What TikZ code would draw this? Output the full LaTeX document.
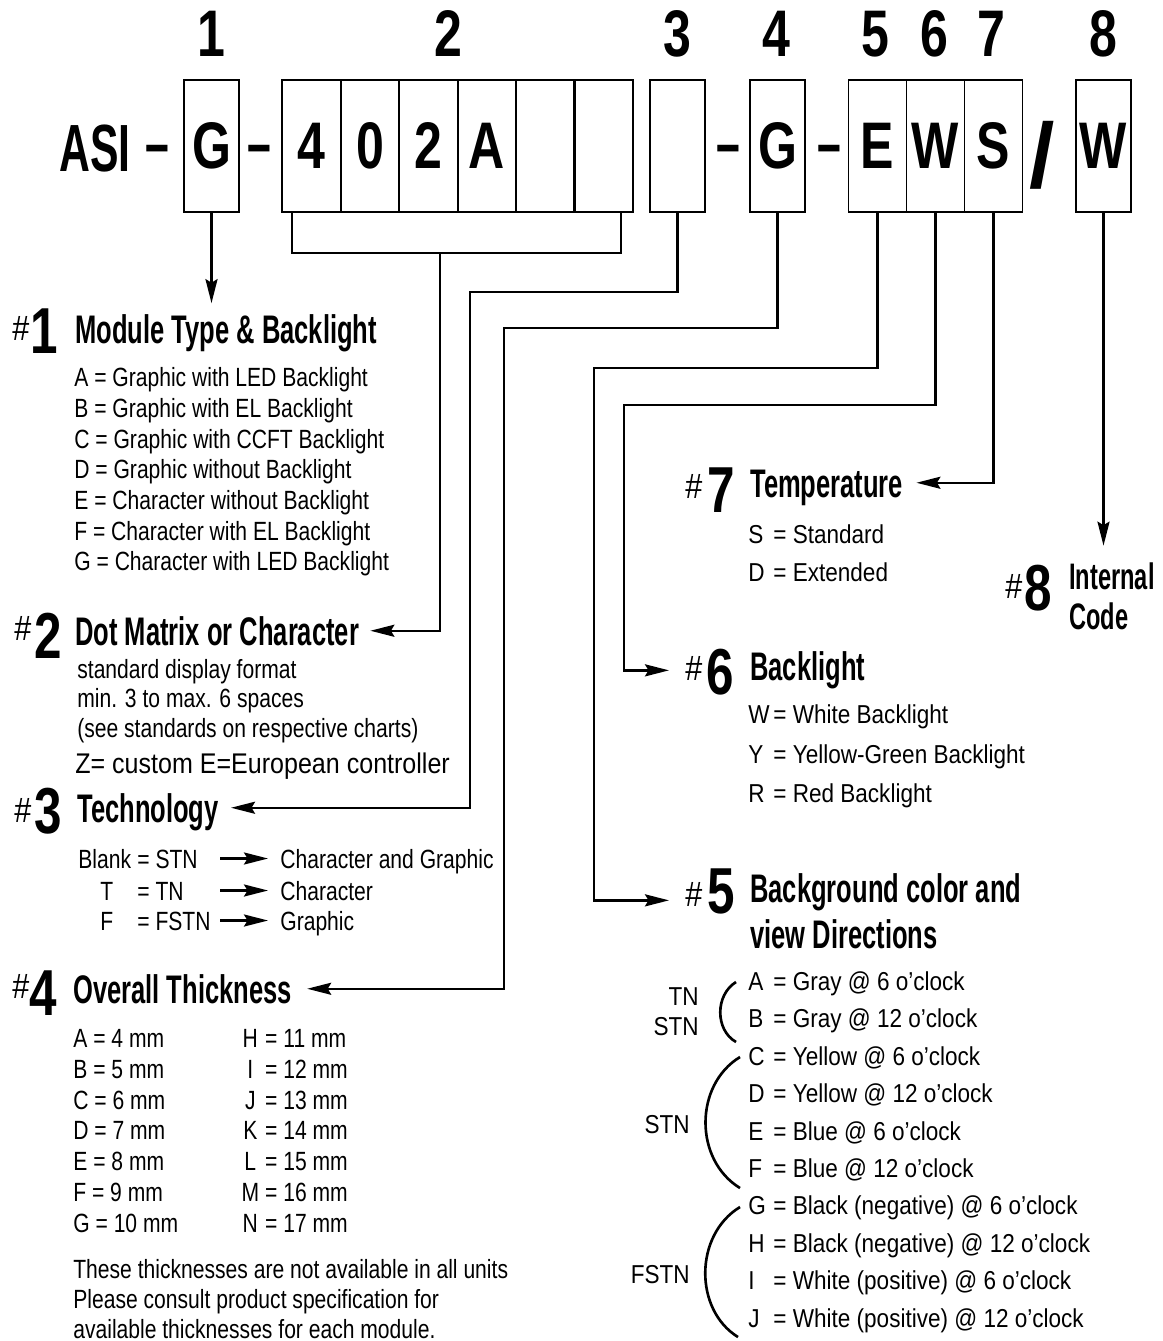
\documentclass[tikz,border=0pt]{standalone}
\usepackage{fontspec}
\setmainfont{Liberation Sans}
\newfontfamily\bodyfont{Liberation Sans}[FakeStretch=0.8]
\newfontfamily\rbodyfont{Liberation Sans}[FakeStretch=0.87]
\newfontfamily\zfont{Liberation Sans}[FakeStretch=0.88]
\newfontfamily\headfont{Liberation Sans}[FakeStretch=0.64]
\newfontfamily\digitfont{Liberation Sans}[FakeStretch=0.76]
\usetikzlibrary{arrows.meta}
\newcommand{\cellfnt}{\digitfont\bfseries\fontsize{37.5}{40}\selectfont}
\newcommand{\asifnt}{\headfont\bfseries\fontsize{38}{40}\selectfont}
\newcommand{\slashfnt}{\bfseries\fontsize{52}{54}\selectfont}
\newcommand{\numfnt}{\digitfont\bfseries\fontsize{37}{38}\selectfont}
\newcommand{\headfnt}{\headfont\bfseries\fontsize{22.7}{26}\selectfont}
\newcommand{\codefnt}{\headfont\bfseries\fontsize{21}{24}\selectfont}
\newcommand{\hashfnt}{\rbodyfont\fontsize{20}{22}\selectfont}
\newcommand{\bodyfnt}{\bodyfont\fontsize{15}{18}\selectfont}
\newcommand{\rbodyfnt}{\rbodyfont\fontsize{14.75}{18}\selectfont}
\newcommand{\zfnt}{\zfont\fontsize{16.2}{19}\selectfont}
\newcommand{\rletter}[1]{\makebox[0.5cm][l]{#1}}
\newcommand{\tletter}[1]{\makebox[0.36cm][c]{#1}}

\begin{document}
\begin{tikzpicture}[x=0.02cm,y=-0.02cm]
\useasboundingbox (0,0) rectangle (1162,1341);
\tikzstyle{every node}=[inner sep=0pt];
\tikzstyle{cell}=[draw, line width=1.1pt, minimum height=2.64cm, font=\cellfnt]
\tikzstyle{cellw}=[cell, minimum width=1.17cm]
\tikzstyle{celln}=[cell, minimum width=1.09cm]
\tikzstyle{cellm}=[cell, minimum width=1.16cm]
\tikzstyle{posnum}=[anchor=base, font=\cellfnt]
\tikzstyle{hyph}=[anchor=base, font=\asifnt]
\tikzstyle{hash}=[anchor=base west, font=\hashfnt, text depth=0pt]
\tikzstyle{secnum}=[anchor=base, font=\numfnt]
\tikzstyle{head}=[anchor=base west, font=\headfnt, text height=0.57cm, text depth=0pt]
\tikzstyle{body}=[anchor=base west, font=\bodyfnt]
\tikzstyle{rbody}=[anchor=base west, font=\rbodyfnt]
\tikzstyle{conn}=[line width=1.4pt, -{Stealth[length=0.48cm, width=0.24cm, inset=0.07cm]}]
\tikzstyle{paren}=[line width=1.5pt]

\draw (211,57) node[posnum] (p1) {1};
\draw (448,57) node[posnum] (p2) {2};
\draw (677,57) node[posnum] (p3) {3};
\draw (776,57) node[posnum] (p4) {4};
\draw (875,57) node[posnum] (p5) {5};
\draw (934,57) node[posnum] (p6) {6};
\draw (991,57) node[posnum] (p7) {7};
\draw (1103,57) node[posnum] (p8) {8};

\draw (95,172) node[anchor=base, font=\asifnt] (asi) {ASI};
\draw (157,167) node[hyph] (d1) {–};
\draw (211.5,146) node[celln] (g1) {G};
\draw (259,167) node[hyph] (d2) {–};
\draw (311.5,146) node[cellw] (c21) {4};
\draw (370,146) node[cellw] (c22) {0};
\draw (428.5,146) node[cellw] (c23) {2};
\draw (487,146) node[cellw] (c24) {A};
\draw (545.5,146) node[cellw] (c25) {};
\draw (603.5,146) node[cellw] (c26) {};
\draw (677.5,146) node[celln] (c3) {};
\draw (728,167) node[hyph] (d3) {–};
\draw (777.5,146) node[celln] (c4) {G};
\draw (829,167) node[hyph] (d4) {–};
\draw (877.5,146) node[cellm] (c5) {E};
\draw (935.5,146) node[cellm] (c6) {W};
\draw (993.5,146) node[cellm] (c7) {S};
\draw (1042,188) node[anchor=base, font=\slashfnt] (sl) {/};
\draw (1103.5,146) node[celln] (c8) {W};

\draw[line width=1.1pt] (292,212) |- (621,253) -- (621,212);
\coordinate (brk) at (440,253);
\coordinate (k3) at (470,292);
\coordinate (k4) at (504,328);
\coordinate (k5) at (594,368);
\coordinate (k6) at (624,405);

\draw (12,340) node[hash] (s1) {\#};
\draw (44,353) node[secnum] (m1) {1};
\draw (75,343) node[head] (h1) {Module Type \& Backlight};
\draw (74,386) node[body] {A = Graphic with LED Backlight};
\draw (74,417) node[body] {B = Graphic with EL Backlight};
\draw (74,448) node[body] {C = Graphic with CCFT Backlight};
\draw (74,478) node[body] {D = Graphic without Backlight};
\draw (74,509) node[body] {E = Character without Backlight};
\draw (74,540) node[body] {F = Character with EL Backlight};
\draw (74,570) node[body] {G = Character with LED Backlight};

\draw (14,640) node[hash] (s2) {\#};
\draw (48,658) node[secnum] (m2) {2};
\draw (75,645) node[head] (h2) {Dot Matrix or Character};
\draw (77,678) node[body] {standard display format};
\draw (77,707) node[body] {min. 3 to max. 6 spaces};
\draw (77,737) node[body] {(see standards on respective charts)};
\draw (75,773) node[anchor=base west, font=\zfnt] {Z= custom E=European controller};

\draw (14,822) node[hash] (s3) {\#};
\draw (48,833) node[secnum] (m3) {3};
\draw (77,822) node[head] (h3) {Technology};
\draw (78,868) node[body] {Blank};
\draw (100,900) node[body] {T};
\draw (100,930) node[body] {F};
\draw (137,868) node[body] {= STN};
\draw (137,900) node[body] {= TN};
\draw (137,930) node[body] {= FSTN};
\draw (280,868) node[body, text height=0.38cm, text depth=0pt] (t1) {Character and Graphic};
\draw (280,900) node[body, text height=0.38cm, text depth=0pt] (t2) {Character};
\draw (280,930) node[body, text height=0.38cm, text depth=0pt] (t3) {Graphic};
\draw[conn] ([xshift=-1.2cm]t1.west) -- ([xshift=-0.24cm]t1.west);
\draw[conn] ([xshift=-1.2cm]t2.west) -- ([xshift=-0.24cm]t2.west);
\draw[conn] ([xshift=-1.2cm]t3.west) -- ([xshift=-0.24cm]t3.west);

\draw (12,998) node[hash] (s4) {\#};
\draw (43,1015) node[secnum] (m4) {4};
\draw (73,1003) node[head] (h4) {Overall Thickness};
\draw (73,1047) node[body] {A = 4 mm};
\draw (73,1078) node[body] {B = 5 mm};
\draw (73,1109) node[body] {C = 6 mm};
\draw (73,1139) node[body] {D = 7 mm};
\draw (73,1170) node[body] {E = 8 mm};
\draw (73,1201) node[body] {F = 9 mm};
\draw (73,1232) node[body] {G = 10 mm};
\draw (241,1047) node[body] {\tletter{H} = 11 mm};
\draw (241,1078) node[body] {\tletter{I} = 12 mm};
\draw (241,1109) node[body] {\tletter{J} = 13 mm};
\draw (241,1139) node[body] {\tletter{K} = 14 mm};
\draw (241,1170) node[body] {\tletter{L} = 15 mm};
\draw (241,1201) node[body] {\tletter{M} = 16 mm};
\draw (241,1232) node[body] {\tletter{N} = 17 mm};
\draw (73,1278) node[body] {These thicknesses are not available in all units};
\draw (73,1308) node[body] {Please consult product specification for};
\draw (73,1338) node[body] {available thicknesses for each module.};

\draw (685,498) node[hash] (s7) {\#};
\draw (721,512) node[secnum] (m7) {7};
\draw (750,497) node[head] (h7) {Temperature};
\draw (748,543) node[rbody] {\rletter{S}= Standard};
\draw (748,581) node[rbody] {\rletter{D}= Extended};

\draw (1005,598) node[hash] (s8) {\#};
\draw (1038,610) node[secnum] (m8) {8};
\draw (1069,589) node[anchor=base west, font=\codefnt, text height=0.53cm, text depth=0pt] (h8) {Internal};
\draw (1069,629) node[anchor=base west, font=\codefnt] (h8b) {Code};

\draw (685,680) node[hash] (s6) {\#};
\draw (720,694) node[secnum] (m6) {6};
\draw (750,680) node[head] (h6) {Backlight};
\draw (748,723) node[rbody] {\rletter{W}= White Backlight};
\draw (748,763) node[rbody] {\rletter{Y}= Yellow-Green Backlight};
\draw (748,802) node[rbody] {\rletter{R}= Red Backlight};

\draw (685,906) node[hash] (s5) {\#};
\draw (721,913) node[secnum] (m5) {5};
\draw (750,902) node[head] (h5) {Background color and};
\draw (750,948) node[head] (h5b) {view Directions};
\draw (748,990) node[rbody] {\rletter{A}= Gray @ 6 o’clock};
\draw (748,1027) node[rbody] {\rletter{B}= Gray @ 12 o’clock};
\draw (748,1065) node[rbody] {\rletter{C}= Yellow @ 6 o’clock};
\draw (748,1102) node[rbody] {\rletter{D}= Yellow @ 12 o’clock};
\draw (748,1140) node[rbody] {\rletter{E}= Blue @ 6 o’clock};
\draw (748,1177) node[rbody] {\rletter{F}= Blue @ 12 o’clock};
\draw (748,1214) node[rbody] {\rletter{G}= Black (negative) @ 6 o’clock};
\draw (748,1252) node[rbody] {\rletter{H}= Black (negative) @ 12 o’clock};
\draw (748,1289) node[rbody] {\rletter{I}= White (positive) @ 6 o’clock};
\draw (748,1327) node[rbody] {\rletter{J}= White (positive) @ 12 o’clock};
\draw (699,1005) node[anchor=base east, font=\rbodyfnt] (l1) {TN};
\draw (699,1035) node[anchor=base east, font=\rbodyfnt] (l2) {STN};
\draw (690,1133) node[anchor=base east, font=\rbodyfnt] (l3) {STN};
\draw (690,1283) node[anchor=base east, font=\rbodyfnt] (l4) {FSTN};
\draw[paren] (736,982) .. controls (715,995) and (715,1030) .. (736,1042);
\draw[paren] (740,1057) .. controls (694,1085) and (694,1160) .. (740,1188);
\draw[paren] (740,1207) .. controls (694,1235) and (694,1310) .. (738,1337);

\draw[conn, shorten >=0.22cm] (g1.south) -- (g1.south |- h1.north);
\draw[conn] (brk) |- ([xshift=0.22cm]h2.east);
\draw[conn] (c3.south) |- (k3) |- ([xshift=0.24cm]h3.east);
\draw[conn] (c4.south) |- (k4) |- ([xshift=0.3cm]h4.east);
\draw[conn] (c5.south) |- (k5) |- ([shift={(-0.32cm,0.12cm)}]s5.south west);
\draw[conn] (c6.south) |- (k6) |- ([shift={(-0.32cm,0.2cm)}]s6.south west);
\draw[conn] (c7.south) |- ([xshift=0.26cm]h7.east);
\draw[conn, shorten >=0.33cm] (c8.south) -- (c8.south |- h8.north);
\end{tikzpicture}
\end{document}
